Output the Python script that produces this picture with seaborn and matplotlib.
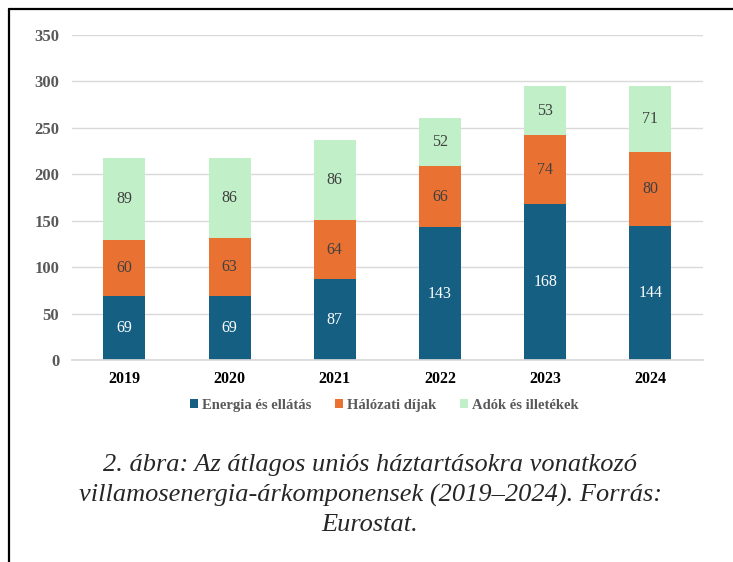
import numpy as np
import pandas as pd
import matplotlib.pyplot as plt
import seaborn as sns
from matplotlib.lines import Line2D
from matplotlib.patches import Patch

# adatok
years = ["2019", "2020", "2021", "2022", "2023", "2024"]
energia = [69, 69, 87, 143, 168, 144]
halozati = [60, 63, 64, 66, 74, 80]
adok = [89, 86, 86, 52, 53, 71]
series_names = ["Energia és ellátás", "Hálózati díjak", "Adók és illetékek"]
colors = ["#156082", "#E97132", "#C1F0C8"]
label_colors = ["white", "#404040", "#404040"]
caption = ("2. ábra: Az átlagos uniós háztartásokra vonatkozó\n"
           "villamosenergia-árkomponensek (2019–2024). Forrás:\n"
           "Eurostat.")

sns.set_theme(style="white")
plt.rcParams['font.family'] = ['Liberation Serif', 'DejaVu Serif']

df = pd.DataFrame({"year": years, "e": energia, "h": halozati, "a": adok})
df["eh"] = df["e"] + df["h"]
df["total"] = df["eh"] + df["a"]

fig = plt.figure(figsize=(7.33, 5.62), dpi=100)
ax = fig.add_axes([0.098, 0.359, 0.861, 0.579])

ax.yaxis.grid(True, color="#d9d9d9", linewidth=1)
ax.set_axisbelow(True)

# egymásra rajzolt oszlopok (felülről lefelé)
sns.barplot(data=df, x="year", y="total", color=colors[2], width=0.4,
            saturation=1, ax=ax, linewidth=0)
sns.barplot(data=df, x="year", y="eh", color=colors[1], width=0.4,
            saturation=1, ax=ax, linewidth=0)
sns.barplot(data=df, x="year", y="e", color=colors[0], width=0.4,
            saturation=1, ax=ax, linewidth=0)

# értékcímkék
for i, row in df.iterrows():
    segs = [(0, row["e"]), (row["e"], row["h"]), (row["eh"], row["a"])]
    for k, (b, v) in enumerate(segs):
        ax.text(i, b + v / 2, str(v), ha="center", va="center",
                fontsize=11.5, color=label_colors[k])

ax.set_ylim(0, 350)
ax.set_yticks(range(0, 351, 50))
ax.set_xlim(-0.5, 5.5)
ax.set_xlabel("")
ax.set_ylabel("")
for s in ["top", "right", "left"]:
    ax.spines[s].set_visible(False)
ax.spines["bottom"].set_color("#d9d9d9")
ax.tick_params(axis="y", length=0, pad=9, labelsize=12, labelcolor="#595959")
ax.tick_params(axis="x", length=0, pad=8, labelsize=11.5, labelcolor="black")
for t in ax.get_yticklabels():
    t.set_fontweight("bold")
for t in ax.get_xticklabels():
    t.set_fontweight("bold")

handles = [Patch(facecolor=c, edgecolor="none") for c in colors]
leg = fig.legend(handles, series_names, loc="center", bbox_to_anchor=(0.524, 0.279),
                 ncol=3, frameon=False, handlelength=0.6, handleheight=0.6,
                 handletextpad=0.25, columnspacing=1.6,
                 prop={"family": "Liberation Serif", "weight": "bold", "size": 10.5})
for t in leg.get_texts():
    t.set_color("#595959")

fig.text(0.505, 0.119, caption, ha="center", va="center", fontsize=19,
         style="italic", linespacing=1.42)

# dokumentumkeret
fig.add_artist(Line2D([9 / 733, 9 / 733], [0, 1 - 9 / 562], color="black", linewidth=1.6))
fig.add_artist(Line2D([9 / 733, 1], [1 - 9 / 562, 1 - 9 / 562], color="black", linewidth=1.6))

fig.savefig("out.png", dpi=100)
